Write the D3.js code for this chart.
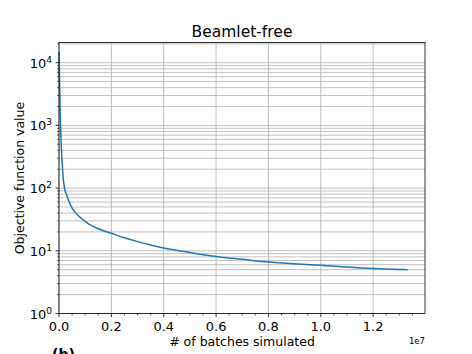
<!DOCTYPE html>
<html><head><meta charset="utf-8">
<script src="https://cdn.jsdelivr.net/npm/d3@7"></script>
<style>
html,body{margin:0;padding:0;background:#fff;}
svg text{font-family:"DejaVu Sans",sans-serif;fill:#000;}
</style></head>
<body><svg id="c" width="472" height="354"></svg>
<script>
const batches = [0, 1e4, 2.5e4, 4e4, 6e4, 8e4, 1.15e5, 1.5e5, 2.1e5, 2.8e5, 3.7e5, 5e5, 7.5e5, 1.13e6, 1.5e6, 2e6, 2.5e6, 3e6, 3.5e6, 4e6, 5e6, 6e6, 7e6, 8e6, 9e6, 1e7, 1.1e7, 1.2e7, 1.3e7, 1.332e7];
const objective = [15000, 8000, 4000, 2200, 1000, 550, 280, 160, 100, 80, 63, 48, 36, 27, 22.5, 19, 16.1, 14.0, 12.4, 11.1, 9.4, 8.1, 7.3, 6.6, 6.2, 5.9, 5.5, 5.2, 5.03, 5.0];
const xTicks = [0, 0.2e7, 0.4e7, 0.6e7, 0.8e7, 1.0e7, 1.2e7];
const xTickLabels = ["0.0", "0.2", "0.4", "0.6", "0.8", "1.0", "1.2"];
const yTicks = [1, 10, 100, 1000, 10000];
const yTickExp = ["0", "1", "2", "3", "4"];
const title = "Beamlet-free";
const xLabel = "# of batches simulated";
const yLabel = "Objective function value";

const L = 59, R = 425, T = 42.5, B = 313.5;
const svg = d3.select("#c");
const x = d3.scaleLinear().domain([0, 1.398e7]).range([L, R]);
const y = d3.scaleLog().domain([1, 2.1e4]).range([B, T]);

const yMinor = [];
for (let e = 0; e <= 4; e++) for (let m = 2; m <= 9; m++) { const v = m * Math.pow(10, e); if (v <= 2.1e4) yMinor.push(v); }
const xMinor = d3.range(0, 1.398e7, 0.05e7).filter(v => !xTicks.some(t => Math.abs(t - v) < 1));

const g = svg.append("g");
g.selectAll(".ymg").data(yMinor).join("line").attr("x1", L).attr("x2", R)
  .attr("y1", d => y(d)).attr("y2", d => y(d)).attr("stroke", "#b0b0b0").attr("stroke-width", 0.8);
g.selectAll(".yMg").data(yTicks).join("line").attr("x1", L).attr("x2", R)
  .attr("y1", d => y(d)).attr("y2", d => y(d)).attr("stroke", "#b0b0b0").attr("stroke-width", 0.8);
g.selectAll(".xMg").data(xTicks).join("line").attr("y1", T).attr("y2", B)
  .attr("x1", d => x(d)).attr("x2", d => x(d)).attr("stroke", "#b0b0b0").attr("stroke-width", 0.8);

const line = d3.line().x((d, i) => x(batches[i])).y(d => y(d)).curve(d3.curveMonotoneX);
svg.append("path").datum(objective).attr("d", line).attr("fill", "none")
  .attr("stroke", "#1f77b4").attr("stroke-width", 1.5);

svg.append("rect").attr("x", L).attr("y", T).attr("width", R - L).attr("height", B - T)
  .attr("fill", "none").attr("stroke", "#000").attr("stroke-width", 0.8);

svg.selectAll(".xt").data(xTicks).join("line").attr("x1", d => x(d)).attr("x2", d => x(d))
  .attr("y1", B).attr("y2", B + 3.5).attr("stroke", "#000").attr("stroke-width", 0.8);
svg.selectAll(".xmt").data(xMinor).join("line").attr("x1", d => x(d)).attr("x2", d => x(d))
  .attr("y1", B).attr("y2", B + 2).attr("stroke", "#000").attr("stroke-width", 0.6);
svg.selectAll(".xtl").data(xTicks).join("text").attr("x", d => x(d)).attr("y", B + 17)
  .attr("text-anchor", "middle").attr("font-size", 13).text((d, i) => xTickLabels[i]);

svg.selectAll(".yt").data(yTicks).join("line").attr("x1", L - 3.5).attr("x2", L)
  .attr("y1", d => y(d)).attr("y2", d => y(d)).attr("stroke", "#000").attr("stroke-width", 0.8);
svg.selectAll(".ymt").data(yMinor).join("line").attr("x1", L - 2).attr("x2", L)
  .attr("y1", d => y(d)).attr("y2", d => y(d)).attr("stroke", "#000").attr("stroke-width", 0.6);
const ytl = svg.selectAll(".ytl").data(yTicks).join("text").attr("x", L - 7).attr("y", d => y(d) + 5)
  .attr("text-anchor", "end").attr("font-size", 13);
ytl.append("tspan").text("10");
ytl.append("tspan").attr("font-size", 9).attr("dy", -5).text((d, i) => yTickExp[i]);

svg.append("text").attr("x", (L + R) / 2).attr("y", 37).attr("text-anchor", "middle")
  .attr("font-size", 15.5).text(title);
svg.append("text").attr("x", (L + R) / 2).attr("y", 346).attr("text-anchor", "middle")
  .attr("font-size", 12.5).text(xLabel);
svg.append("text").attr("transform", `translate(24,${(T + B) / 2}) rotate(-90)`).attr("text-anchor", "middle")
  .attr("font-size", 12.5).text(yLabel);
svg.append("text").attr("x", R).attr("y", 344).attr("text-anchor", "end")
  .attr("font-size", 8.5).text("1e7");
svg.append("text").attr("x", 52).attr("y", 359).attr("font-size", 14).attr("font-weight", "bold").text("(b)");
</script></body></html>
